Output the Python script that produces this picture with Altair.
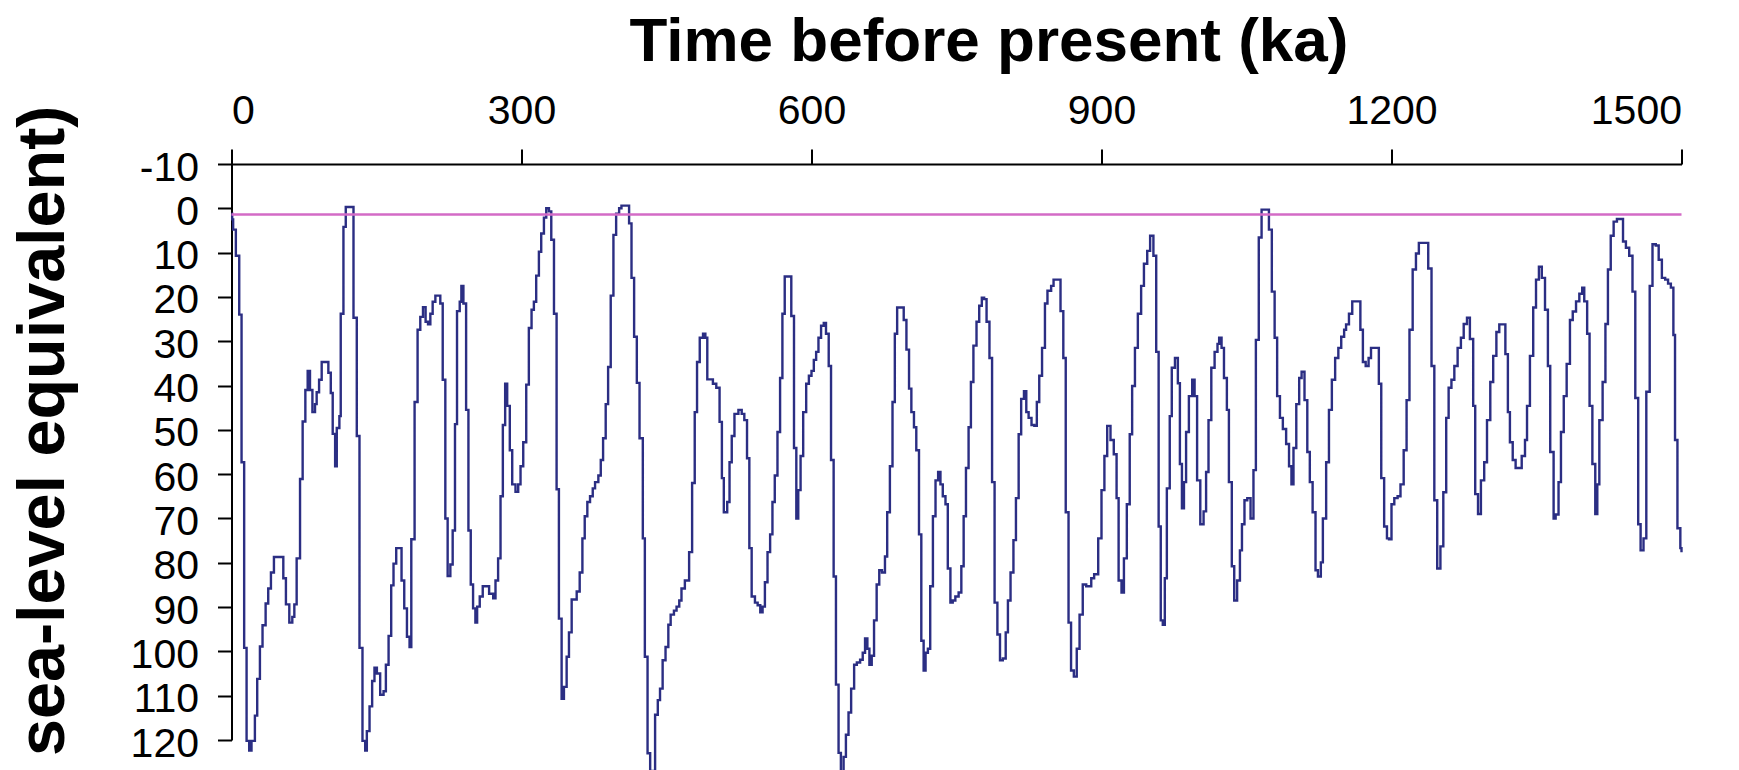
import altair as alt
import pandas as pd

# Ice volume expressed as sea-level equivalent (m), stepped record, 0-1500 ka
age_ka = [
    0.0, 0.7, 1.7, 4.5, 8.0, 10.4, 13.1, 15.6, 18.3, 20.7, 24.2, 26.6, 29.4, 32.1, 35.3, 38.0,
    40.8, 43.9, 53.6, 56.3, 59.8, 62.9, 65.0, 67.4, 70.9, 73.6, 76.4, 78.8, 81.2, 83.7, 86.4,
    88.1, 90.6, 93.3, 100.2, 102.7, 104.7, 107.2, 108.9, 111.6, 113.0, 115.8, 118.2, 126.2,
    129.6, 132.4, 135.5, 138.3, 140.0, 142.8, 145.5, 147.9, 150.4, 153.8, 157.3, 159.7, 162.5,
    165.2, 167.6, 170.4, 175.9, 178.7, 181.5, 184.2, 186.0, 189.4, 192.5, 195.3, 198.1, 200.8,
    203.3, 205.7, 208.1, 210.9, 216.0, 218.5, 221.2, 223.6, 226.4, 228.8, 231.2, 233.3, 236.1,
    237.8, 239.9, 242.7, 245.1, 247.5, 249.9, 252.3, 254.1, 256.8, 259.9, 266.5, 270.7, 273.1,
    275.8, 278.3, 280.7, 283.1, 285.2, 287.9, 290.4, 293.8, 296.6, 299.0, 301.8, 304.9, 307.6,
    310.4, 312.8, 315.2, 318.0, 320.4, 323.2, 325.6, 328.4, 330.8, 333.6, 336.3, 338.7, 341.5,
    343.9, 346.7, 349.1, 351.9, 357.1, 360.2, 363.0, 365.4, 368.1, 370.9, 373.7, 376.1, 379.5,
    382.0, 384.4, 387.1, 389.6, 392.3, 395.1, 397.9, 401.0, 403.4, 411.3, 413.8, 416.5, 419.3,
    422.1, 425.5, 427.6, 430.4, 433.1, 435.5,
    438.2, 441.0, 443.3, 446.0, 449.0, 451.9, 454.3, 457.7, 460.4, 463.2, 465.5, 469.0, 473.4,
    476.5, 479.2, 481.6, 484.4, 487.8, 490.2, 492.2, 498.0, 501.5, 504.9, 507.3, 509.3, 512.8,
    515.2, 517.5, 520.3, 524.4, 527.8, 530.5, 533.3, 535.7, 538.1, 541.5, 544.3, 547.0, 549.4,
    551.8, 554.5, 557.2, 559.6, 562.0, 564.8, 567.5, 569.9, 572.3, 579.1, 581.9, 584.3, 586.3,
    588.7, 591.4, 594.5, 597.3, 600.0, 602.4, 604.8, 607.2, 609.9, 612.7, 615.0, 617.8, 620.2,
    622.9, 625.3, 628.0, 630.4, 633.2, 635.6, 638.3, 641.0, 644.1, 646.9, 650.3, 653.0, 655.4,
    657.8, 659.9, 662.3, 664.7, 667.4, 670.1, 672.9, 676.0, 678.3, 681.1, 683.8, 686.2, 688.6,
    695.4, 698.2, 700.9, 703.3, 706.0, 708.4, 711.2, 713.6, 716.0, 718.0, 720.4, 722.8, 725.6,
    728.3, 731.0, 733.4, 735.8, 738.6, 741.0, 743.7, 746.1, 748.8, 752.2, 755.0, 757.4, 759.8,
    762.5, 764.9, 767.5, 770.7, 773.5, 776.2, 778.6, 781.1, 784.1, 786.8, 789.4, 792.3, 795.0,
    797.9, 800.9, 803.2, 805.9, 808.9, 811.5, 814.3, 816.9, 819.8, 822.2, 824.6, 827.6, 830.5,
    833.1, 835.6, 838.5, 841.5, 844.1, 847.9, 850.4, 857.6, 860.5, 863.0, 865.9, 868.5, 871.4,
    874.4, 877.3, 880.6, 884.2, 889.4, 892.4,
    896.6, 900.0, 903.0, 905.9, 909.3, 912.7, 915.6, 917.7, 920.7, 923.2, 926.2, 929.2, 931.7,
    934.6, 937.6, 941.0, 943.9, 947.3, 950.3, 953.7, 956.6, 959.1, 961.3, 963.4, 965.5, 967.6,
    970.6, 972.7, 976.0, 979.0, 981.1, 983.2, 985.3, 987.5, 990.4, 993.8, 996.3, 998.9, 1002.2,
    1005.6, 1008.2, 1010.7, 1013.6, 1017.0, 1020.0, 1021.7, 1024.2, 1026.7, 1029.7, 1031.8,
    1034.8, 1037.3, 1040.3, 1043.2, 1045.3, 1047.9, 1050.8, 1054.2, 1057.2, 1059.7, 1062.7,
    1065.6, 1073.2, 1076.2, 1079.1, 1081.7, 1084.6, 1087.6, 1091.0, 1094.0, 1096.5, 1098.6,
    1101.5, 1104.5, 1107.0, 1110.0, 1112.9, 1115.5, 1118.4, 1121.4, 1123.9, 1126.9, 1129.0,
    1132.4, 1135.3, 1138.3, 1141.7, 1145.0, 1148.0, 1151.0, 1153.0, 1156.0, 1159.4, 1167.8,
    1170.4, 1173.3, 1176.3, 1178.8, 1186.9, 1189.4, 1192.4, 1195.3, 1197.4, 1200.0, 1202.9,
    1206.3, 1209.3, 1212.6, 1215.6, 1218.6, 1221.9, 1225.3, 1228.3, 1238.0, 1241.4, 1244.3,
    1247.3, 1250.6, 1253.6, 1256.6, 1259.1, 1262.0, 1265.0, 1268.4, 1271.8, 1274.7, 1278.1,
    1281.1, 1284.5, 1286.6, 1289.5, 1292.5, 1295.9, 1298.8, 1302.2, 1305.2, 1308.5, 1311.5,
    1317.8, 1320.4, 1322.5, 1325.4, 1328.4, 1334.7, 1338.1, 1340.2, 1343.2, 1346.6, 1349.5,
    1352.5, 1355.5, 1358.8, 1361.8, 1364.2, 1367.7, 1369.8, 1372.8, 1375.3, 1378.2, 1381.2,
    1384.6, 1387.5, 1390.9, 1394.3, 1397.3, 1399.4, 1402.4, 1404.9, 1407.8, 1410.8, 1412.9,
    1415.0, 1418.4, 1421.3, 1423.9, 1426.8, 1429.8, 1433.2, 1439.5, 1442.5, 1445.9, 1449.3,
    1452.2, 1455.2, 1457.7, 1460.7, 1463.6, 1467.1, 1470.0, 1473.4, 1476.4, 1479.7, 1483.1,
    1486.1, 1489.0, 1491.6, 1493.3, 1495.8, 1498.8, 1500.0,
]

sea_level_m = [
    1.2, 2.5, 4.8, 10.7, 24.0, 57.3, 99.2, 120.2, 122.4, 120.2, 114.5, 106.2, 98.9, 94.1, 89.2, 85.8,
    82.2, 78.7, 83.5, 89.4, 93.5, 92.2, 89.4, 79.0, 61.1, 48.1, 41.0, 36.7, 41.0, 46.0, 44.2,
    41.5, 38.7, 34.7, 37.1, 41.7, 50.9, 58.2, 49.6, 46.9, 23.8, 4.2, -0.3, 24.7,
    51.4, 99.2, 120.2, 122.4, 118.0, 112.4, 106.7, 103.7, 105.0, 109.8, 109.0, 103.0, 96.5,
    85.1, 80.2, 76.7, 84.0, 90.3, 96.7, 99.0, 74.7, 43.7, 27.4, 24.5, 22.3, 25.6,
    26.2, 23.8, 21.1, 19.7, 21.5, 38.7, 70.0, 83.0, 80.4, 72.7, 48.7, 23.2, 21.1,
    17.5, 21.5, 45.5, 72.7, 84.9, 90.3, 93.5, 89.9, 87.6, 85.3, 87.0, 88.0, 84.0,
    79.0, 65.0, 48.9, 39.6, 44.6, 54.6, 62.3, 64.0, 62.3, 58.2, 52.8, 39.8, 27.0,
    22.9, 21.1, 15.2, 9.8, 5.7, 2.1, 0.0, 0.7, 7.1, 23.8, 63.4, 92.6, 110.7,
    108.0, 101.2, 95.7, 88.3, 86.5, 82.2, 74.5, 69.5, 66.3, 65.0, 63.2, 61.8, 60.3,
    56.8, 51.9, 44.2, 35.8, 19.7, 6.0, 1.2, 0.0, -0.6, 3.4, 15.7, 29.0, 39.4,
    51.9, 74.5, 101.2, 123.0, 128.0, 127.0,
    114.3, 111.0, 108.4, 102.0, 99.0, 94.0, 91.7, 90.8, 89.9, 88.5, 85.8, 84.0, 77.6,
    62.0, 46.0, 34.7, 29.2, 28.3, 29.2, 38.6, 39.6, 40.5, 48.2, 60.9, 68.6, 66.3,
    57.3, 51.4, 46.4, 45.5, 46.4, 47.8, 56.4, 76.7, 87.6, 89.0, 89.6, 91.2, 89.9,
    84.4, 77.6, 73.6, 66.3, 60.3, 50.5, 38.3, 23.8, 15.4, 24.3, 54.1, 70.0, 63.6,
    55.9, 46.0, 39.6, 37.8, 36.7, 34.2, 32.4, 29.2, 26.5, 25.9, 28.3, 35.6, 56.8,
    83.1, 107.5, 122.9, 128.0, 123.8, 118.8, 113.8, 108.4, 103.0, 102.5, 101.9, 100.3, 97.1,
    99.4, 103.0, 101.0, 93.0, 84.9, 81.7, 82.2, 78.6, 68.6, 58.2, 43.7, 28.3, 22.4,
    25.2, 31.9, 40.7, 46.0, 49.4, 54.6, 73.6, 97.6, 104.3, 100.3, 99.4, 85.3, 69.5,
    61.4, 59.5, 62.3, 65.0, 66.8, 81.3, 89.0, 88.5, 87.6, 86.7, 80.8, 69.5, 58.6,
    49.4, 39.2, 31.0, 25.6, 22.0, 20.2, 20.5, 25.6, 33.8, 61.8, 89.0, 96.2, 102.0,
    101.6, 95.7, 88.5, 82.2, 74.9, 65.4, 51.0, 43.0, 41.3, 46.0, 47.3, 48.9, 49.1,
    43.7, 37.8, 31.5, 21.5, 18.6, 17.5, 16.1, 23.2, 33.8, 68.6, 93.5, 104.3, 105.7,
    99.4, 91.7, 84.9, 85.3, 83.5, 82.6,
    74.5, 63.6, 55.9, 49.1, 52.3, 55.5, 65.4, 84.0, 86.7, 79.0, 66.8, 51.0, 40.1,
    31.5, 23.8, 17.5, 12.5, 9.6, 6.2, 10.7, 32.4, 71.8, 93.0, 94.0, 83.5, 63.2,
    46.9, 36.0, 33.8, 39.5, 57.7, 67.7, 61.8, 50.5, 42.4, 38.7, 42.4, 61.4, 71.3,
    68.4, 59.5, 47.8, 36.0, 32.4, 30.6, 29.2, 31.5, 38.3, 45.5, 61.8,
    80.8, 88.5, 84.0, 77.2, 71.3, 65.9, 65.4, 70.0, 59.1, 29.7, 6.6,
    0.3, 4.8, 18.8, 29.2, 42.4, 47.3, 49.8, 53.2, 58.2, 62.3, 54.1,
    44.2, 38.3, 36.9, 43.3, 55.0, 61.8, 68.6, 81.7, 83.1, 79.9, 70.0,
    57.3, 45.5, 38.7, 33.8, 31.5, 29.0, 27.4, 26.2, 23.8, 21.0, 27.4,
    34.7, 35.6, 33.8, 31.5, 39.6, 60.9, 71.8, 74.5, 74.7, 66.8, 65.4,
    65.0, 62.3, 54.6, 43.3, 27.4, 13.8, 10.2, 7.8, 13.6, 35.6, 65.9,
    81.3, 76.3, 64.1, 47.3, 40.5, 38.7, 35.6, 31.5, 29.2, 26.1, 24.7,
    29.5, 44.6, 64.5, 69.0, 61.4, 57.3, 47.8, 39.2, 33.3, 27.9, 26.2,
    32.9, 46.0, 52.8, 56.8, 58.6, 55.9, 52.3, 44.6, 33.3, 22.4, 16.1,
    13.2, 15.7, 22.9, 35.6, 55.0, 70.0, 69.1, 61.8, 50.5, 42.4, 35.1,
    25.2, 23.3, 21.0, 19.3, 17.9, 21.0, 28.3, 44.6, 57.7, 69.0, 62.3,
    47.8, 39.2, 26.1, 13.8, 6.2, 3.0, 2.4, 7.5, 8.9, 10.7, 18.8,
    42.8, 71.3, 77.2, 74.5, 41.4, 17.5, 8.1, 8.4, 11.6, 15.7, 16.1,
    17.0, 17.9, 28.6, 52.3, 72.2, 76.7, 77.6,
]

present_day = [1.4]

x_ticks = [0, 300, 600, 900, 1200, 1500]
y_ticks = list(range(-10, 121, 10))

FONT = "Liberation Sans"
W, H = 1450, 576

record = pd.DataFrame({"age": age_ka, "level": sea_level_m})
reference = pd.DataFrame({"level": present_day})

# plain integer labels: hyphen-minus, no thousands separator
plain_label = "'' + datum.value"

x_enc = alt.X(
    "age:Q",
    scale=alt.Scale(domain=[0, 1500], nice=False, zero=False),
    axis=alt.Axis(
        orient="top",
        values=x_ticks,
        labelExpr=plain_label,
        title="Time before present (ka)",
        titleFontSize=62,
        titleX=757,
        titleY=-104,
        titleAlign="center",
        titleBaseline="alphabetic",
        titleAngle=0,
        tickSize=15,
        labelPadding=17,
    ),
)

y_enc = alt.Y(
    "level:Q",
    scale=alt.Scale(domain=[-10, 120], reverse=True, nice=False, zero=False),
    axis=alt.Axis(
        values=y_ticks,
        labelExpr=plain_label,
        title="sea-level equivalent)",
        titleFontSize=66.5,
        titleAngle=270,
        titleAlign="right",
        titleBaseline="alphabetic",
        titleX=-168,
        titleY=-59,
        tickSize=14,
        labelPadding=19,
        labelOffset=4,
    ),
)

curve = (
    alt.Chart(record)
    .mark_line(interpolate="step-after", color="#2B2E83", strokeWidth=2.4, clip=False)
    .encode(x=x_enc, y=y_enc)
)

present_line = (
    alt.Chart(reference)
    .mark_rule(color="#D36BC6", strokeWidth=2.5)
    .encode(y=alt.Y("level:Q"))
)

chart = (
    alt.layer(curve, present_line)
    .properties(
        width=W,
        height=H,
        autosize=alt.AutoSizeParams(type="none"),
        padding={"left": 231.5, "top": 164, "right": 57.5, "bottom": 30},
    )
    .configure_view(strokeWidth=0)
    .configure_axis(
        grid=False,
        domainColor="black",
        domainWidth=2,
        tickColor="black",
        tickWidth=2,
        labelFont=FONT,
        labelFontSize=41,
        labelColor="black",
        titleFont=FONT,
        titleFontWeight="bold",
        titleColor="black",
    )
)

chart.save("out.html", embed_options={"renderer": "svg", "actions": False})
